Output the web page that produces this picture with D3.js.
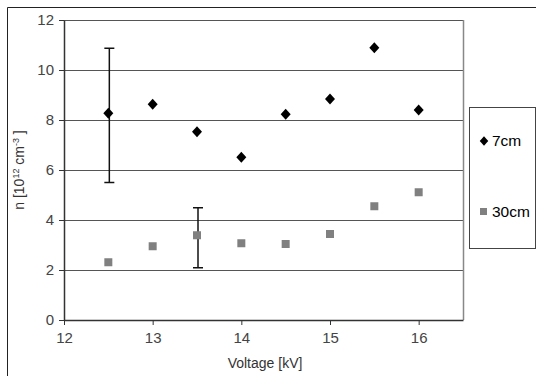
<!DOCTYPE html>
<html>
<head>
<meta charset="utf-8">
<script src="https://cdn.jsdelivr.net/npm/d3@7"></script>
<style>
  body { margin: 0; background: #fff; }
  svg { display: block; font-family: "Liberation Sans", Arial, sans-serif; }
</style>
</head>
<body>
<svg width="536" height="376"></svg>
<script>
// data
const voltage = [12.5, 13, 13.5, 14, 14.5, 15, 15.5, 16];
const n7cm = [8.27, 8.63, 7.53, 6.51, 8.23, 8.84, 10.89, 8.4];
const n30cm = [2.31, 2.95, 3.39, 3.07, 3.04, 3.44, 4.55, 5.11];
// error bars: [x, low, high]
const errBars = [[12.5, 5.5, 10.87], [13.5, 2.09, 4.49]];
const xTicks = [12, 13, 14, 15, 16];
const yTicks = [0, 2, 4, 6, 8, 10, 12];

const svg = d3.select('svg');
const margin = { top: 20, left: 64 };
const plotW = 399, plotH = 300;

// outer frame (cut off at right/bottom)
svg.append('path')
  .attr('d', 'M7.5,376 V7.5 H536')
  .attr('fill', 'none').attr('stroke', '#222').attr('stroke-width', 1);

const x = d3.scaleLinear().domain([12, 16.5]).range([0, plotW]);
const y = d3.scaleLinear().domain([0, 12]).range([plotH, 0]);

const g = svg.append('g')
  .attr('transform', 'translate(' + margin.left + ',' + margin.top + ')');

// gridlines
g.selectAll('.grid').data(yTicks.filter(d => d > 0))
  .enter().append('line')
  .attr('class', 'grid')
  .attr('x1', 0).attr('x2', plotW)
  .attr('y1', d => Math.round(y(d)) + 0.5).attr('y2', d => Math.round(y(d)) + 0.5)
  .attr('stroke', '#555').attr('stroke-width', 1);

// plot border right
g.append('line')
  .attr('x1', plotW + 0.5).attr('x2', plotW + 0.5)
  .attr('y1', 0).attr('y2', plotH)
  .attr('stroke', '#888').attr('stroke-width', 1.5);

// axes
const xAxis = g.append('g')
  .attr('transform', 'translate(0,' + plotH + ')')
  .call(d3.axisBottom(x).tickValues(xTicks).tickSize(5).tickSizeOuter(0).tickFormat(d3.format('d')));
const yAxis = g.append('g')
  .call(d3.axisLeft(y).tickValues(yTicks).tickSize(5).tickSizeOuter(0).tickFormat(d3.format('d')));

[xAxis, yAxis].forEach(a => {
  a.select('.domain').attr('stroke', '#333').attr('stroke-width', 1.5);
  a.selectAll('.tick line').attr('stroke', '#333');
  a.selectAll('.tick text').attr('fill', '#444').style('font-size', '15px')
    .style('font-family', '"Liberation Sans", Arial, sans-serif');
});
xAxis.selectAll('.tick text').attr('y', 12).attr('dy', '0.71em');
yAxis.selectAll('.tick text').attr('x', -10);

// error bars
const eb = g.selectAll('.err').data(errBars).enter().append('g').attr('class', 'err');
eb.append('line')
  .attr('x1', d => x(d[0]) + 1).attr('x2', d => x(d[0]) + 1)
  .attr('y1', d => y(d[1])).attr('y2', d => y(d[2]))
  .attr('stroke', '#111').attr('stroke-width', 1.5);
eb.selectAll('.cap').data(d => [[d[0], d[1]], [d[0], d[2]]])
  .enter().append('line')
  .attr('x1', d => x(d[0]) - 4).attr('x2', d => x(d[0]) + 6)
  .attr('y1', d => y(d[1])).attr('y2', d => y(d[1]))
  .attr('stroke', '#111').attr('stroke-width', 1.5);

// 30cm squares
g.selectAll('.sq').data(voltage.map((v, i) => [v, n30cm[i]]))
  .enter().append('rect')
  .attr('x', d => x(d[0]) - 4).attr('y', d => y(d[1]) - 4)
  .attr('width', 8).attr('height', 8)
  .attr('fill', '#808080');

// 7cm diamonds
const diamond = 'M0,-5.5 L5,0 L0,5.5 L-5,0 Z';
g.selectAll('.dm').data(voltage.map((v, i) => [v, n7cm[i]]))
  .enter().append('path')
  .attr('d', diamond)
  .attr('transform', d => 'translate(' + x(d[0]) + ',' + y(d[1]) + ')')
  .attr('fill', '#000');

// axis titles
svg.append('text')
  .attr('x', 265).attr('y', 368)
  .attr('text-anchor', 'middle')
  .attr('fill', '#333').style('font-size', '14px')
  .text('Voltage [kV]');

const yl = svg.append('text')
  .attr('transform', 'translate(24,' + (margin.top + y(6)) + ') rotate(-90)')
  .attr('text-anchor', 'middle')
  .attr('fill', '#333').style('font-size', '14px');
yl.append('tspan').text('n [10');
yl.append('tspan').attr('dy', -5).style('font-size', '9px').text('12');
yl.append('tspan').attr('dy', 5).text(' cm');
yl.append('tspan').attr('dy', -5).style('font-size', '9px').text('-3');
yl.append('tspan').attr('dy', 5).text(' ]');

// legend
const leg = svg.append('g');
leg.append('rect')
  .attr('x', 469.5).attr('y', 107.5).attr('width', 66).attr('height', 141)
  .attr('fill', '#fff').attr('stroke', '#444').attr('stroke-width', 1);
leg.append('path').attr('d', diamond)
  .attr('transform', 'translate(484,141) scale(0.85)').attr('fill', '#000');
leg.append('text').attr('x', 492).attr('y', 146)
  .attr('fill', '#000').style('font-size', '15.5px').text('7cm');
leg.append('rect').attr('x', 480).attr('y', 208).attr('width', 7).attr('height', 7).attr('fill', '#808080');
leg.append('text').attr('x', 492).attr('y', 217)
  .attr('fill', '#000').style('font-size', '15.5px').text('30cm');
</script>
</body>
</html>
